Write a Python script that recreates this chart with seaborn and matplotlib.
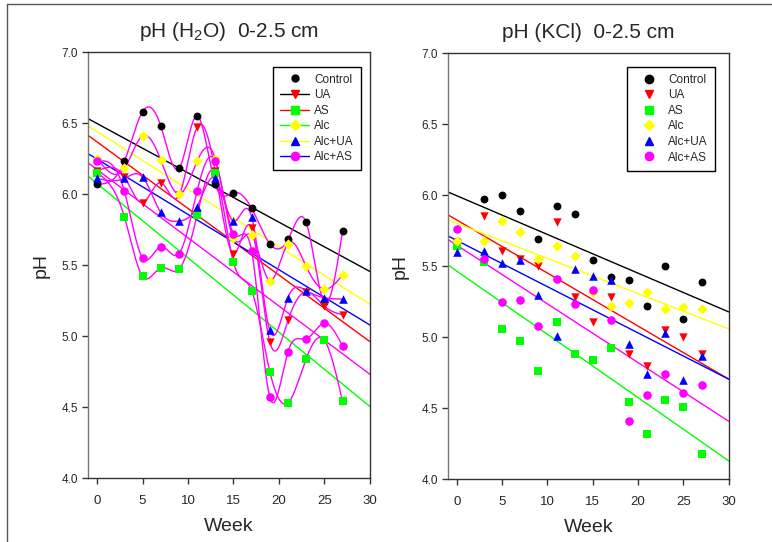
import numpy as np
import pandas as pd
import matplotlib
matplotlib.use("Agg")
import matplotlib.pyplot as plt
import seaborn as sns
from matplotlib.lines import Line2D

# weeks of sampling
weeks = [0, 3, 5, 7, 9, 11, 13, 15, 17, 19, 21, 23, 25, 27]

# pH (H2O) 0-2.5 cm
h2o_control = [6.07, 6.23, 6.58, 6.48, 6.18, 6.55, 6.07, 6.01, 5.90, 5.65, 5.68, 5.80, 5.24, 5.74]
h2o_ua      = [6.16, 6.12, 5.94, 6.08, 5.99, 6.47, 6.16, 5.58, 5.76, 4.96, 5.11, 5.31, 5.21, 5.15]
h2o_as      = [6.15, 5.84, 5.42, 5.48, 5.47, 5.85, 6.15, 5.52, 5.32, 4.75, 4.53, 4.84, 4.97, 4.54]
h2o_alc     = [6.25, 6.18, 6.41, 6.24, 6.00, 6.23, 6.25, 5.69, 5.71, 5.39, 5.65, 5.49, 5.33, 5.43]
h2o_alc_ua  = [6.11, 6.11, 6.12, 5.87, 5.81, 5.91, 6.11, 5.81, 5.84, 5.04, 5.27, 5.32, 5.27, 5.26]
h2o_alc_as  = [6.23, 6.02, 5.55, 5.63, 5.58, 6.02, 6.23, 5.72, 5.60, 4.57, 4.89, 4.98, 5.09, 4.93]

# pH (KCl) 0-2.5 cm
kcl_control = [5.68, 5.97, 6.00, 5.89, 5.69, 5.92, 5.87, 5.54, 5.42, 5.40, 5.22, 5.50, 5.13, 5.39]
kcl_ua      = [5.66, 5.85, 5.61, 5.55, 5.50, 5.81, 5.28, 5.11, 5.28, 4.88, 4.80, 5.05, 5.00, 4.88]
kcl_as      = [5.64, 5.53, 5.06, 4.97, 4.76, 5.11, 4.88, 4.84, 4.92, 4.54, 4.32, 4.56, 4.51, 4.18]
kcl_alc     = [5.68, 5.68, 5.82, 5.74, 5.55, 5.64, 5.57, 5.32, 5.22, 5.24, 5.32, 5.20, 5.21, 5.20]
kcl_alc_ua  = [5.60, 5.61, 5.52, 5.54, 5.30, 5.01, 5.48, 5.43, 5.40, 4.95, 4.74, 5.03, 4.70, 4.87]
kcl_alc_as  = [5.76, 5.55, 5.25, 5.26, 5.08, 5.41, 5.23, 5.33, 5.12, 4.41, 4.59, 4.74, 4.61, 4.66]

series_names = ["Control", "UA", "AS", "Alc", "Alc+UA", "Alc+AS"]
colors = ["#000000", "#ff0000", "#00ff00", "#ffff00", "#0000ff", "#ff00ff"]
markers = ["o", "v", "s", "D", "^", "o"]
sizes = [32, 36, 30, 28, 38, 38]

h2o = [h2o_control, h2o_ua, h2o_as, h2o_alc, h2o_alc_ua, h2o_alc_as]
kcl = [kcl_control, kcl_ua, kcl_as, kcl_alc, kcl_alc_ua, kcl_alc_as]


def natural_spline(x, y, xs):
    # smooth curve through the points, like the spline line in SigmaPlot
    x = np.asarray(x, float)
    y = np.asarray(y, float)
    n = len(x)
    h = np.diff(x)
    A = np.zeros((n, n))
    r = np.zeros(n)
    A[0, 0] = A[-1, -1] = 1
    for i in range(1, n - 1):
        A[i, i - 1] = h[i - 1]
        A[i, i] = 2 * (h[i - 1] + h[i])
        A[i, i + 1] = h[i]
        r[i] = 3 * ((y[i + 1] - y[i]) / h[i] - (y[i] - y[i - 1]) / h[i - 1])
    c = np.linalg.solve(A, r)
    b = (y[1:] - y[:-1]) / h - h * (2 * c[:-1] + c[1:]) / 3
    d = (c[1:] - c[:-1]) / (3 * h)
    idx = np.clip(np.searchsorted(x, xs) - 1, 0, n - 2)
    dx = xs - x[idx]
    return y[idx] + b[idx] * dx + c[idx] * dx ** 2 + d[idx] * dx ** 3


sns.set_style("white")
plt.rcParams["font.family"] = ["Liberation Sans", "DejaVu Sans"]
plt.rcParams["mathtext.fontset"] = "custom"
plt.rcParams["mathtext.rm"] = "Liberation Sans"
plt.rcParams["mathtext.default"] = "regular"

fig = plt.figure(figsize=(7.72, 5.42), dpi=100)
ax1 = fig.add_axes([0.114, 0.118, 0.365, 0.786])
ax2 = fig.add_axes([0.580, 0.116, 0.364, 0.786])

# border of the page
fig.add_artist(Line2D([0.009, 1.0], [0.993, 0.993], color="#555555", lw=1))
fig.add_artist(Line2D([0.009, 0.009], [0.0, 0.993], color="#555555", lw=1))

for ax, data, title, spline in [(ax1, h2o, "pH (H$_2$O)  0-2.5 cm", True),
                                (ax2, kcl, "pH (KCl)  0-2.5 cm", False)]:
    ax.set_xlim(-1, 30)
    ax.set_ylim(4.0, 7.0)
    # regression lines
    for vals, col in zip(data, colors):
        df = pd.DataFrame({"Week": weeks, "pH": vals})
        sns.regplot(data=df, x="Week", y="pH", ax=ax, scatter=False, ci=None,
                    truncate=False, color=col, line_kws={"lw": 1.0, "zorder": 2})
    # spline curves (only in the H2O panel)
    if spline:
        xs = np.linspace(weeks[0], weeks[-1], 600)
        for vals in data:
            ax.plot(xs, natural_spline(weeks, vals, xs), color="#ff00ff", lw=1.0, zorder=3)
    # points
    for vals, col, mk, sz in zip(data, colors, markers, sizes):
        df = pd.DataFrame({"Week": weeks, "pH": vals})
        sns.scatterplot(data=df, x="Week", y="pH", ax=ax, color=col, marker=mk,
                        s=sz, linewidth=0, zorder=4)
    ax.set_xlim(-1, 30)
    ax.set_ylim(4.0, 7.0)
    ax.set_xticks([0, 5, 10, 15, 20, 25, 30])
    ax.set_yticks([4.0, 4.5, 5.0, 5.5, 6.0, 6.5, 7.0])
    ax.set_yticklabels(["4.0", "4.5", "5.0", "5.5", "6.0", "6.5", "7.0"])
    ax.tick_params(axis="x", bottom=True, direction="out", length=4, width=1,
                   labelsize=9.5, pad=8, color="#333333")
    ax.tick_params(axis="y", left=True, direction="out", length=4, width=1,
                   labelsize=8.5, pad=3, color="#333333")
    for sp in ax.spines.values():
        sp.set_color("#333333")
        sp.set_linewidth(1.0)
    ax.spines["left"].set_color("#777777")
    ax.set_xlabel("Week", fontsize=14, labelpad=8)
    ax.set_ylabel("pH", fontsize=14, labelpad=9)
    ax.set_title(title, fontsize=15, pad=11)

# legend of the H2O panel (line colours are shifted by one row, as in the original)
handles1 = [Line2D([], [], ls="none", marker="o", color="#000000", markersize=5)]
for i in range(1, 6):
    handles1.append(Line2D([], [], color=colors[i - 1], lw=1, marker=markers[i],
                           markerfacecolor=colors[i], markeredgecolor=colors[i],
                           markersize=6 if markers[i] != "D" else 5))
leg1 = ax1.legend(handles1, series_names, loc="upper right", bbox_to_anchor=(0.968, 0.966),
                  fontsize=8.5, frameon=True, fancybox=False, framealpha=1,
                  edgecolor="#000000", handlelength=2.4, labelspacing=0.3,
                  borderpad=0.6, handletextpad=0.45, borderaxespad=0)
leg1.get_frame().set_linewidth(1.0)

handles2 = [Line2D([], [], ls="none", marker=m, color=c,
                   markersize=6 if m != "D" else 5) for m, c in zip(markers, colors)]
leg2 = ax2.legend(handles2, series_names, loc="upper right", bbox_to_anchor=(0.95, 0.968),
                  fontsize=8.5, frameon=True, fancybox=False, framealpha=1,
                  edgecolor="#000000", handlelength=2.4, labelspacing=0.3,
                  borderpad=0.6, handletextpad=0.45, borderaxespad=0)
leg2.get_frame().set_linewidth(1.0)

fig.savefig("out.png", dpi=100)
